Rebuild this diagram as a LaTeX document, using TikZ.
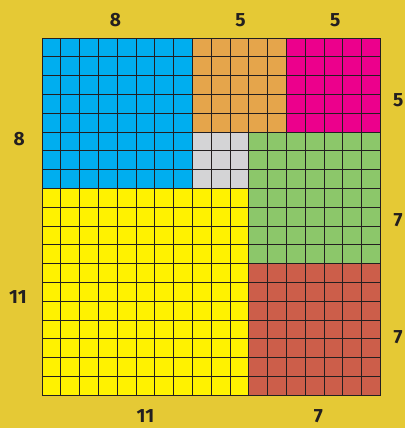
\documentclass[tikz,border=0pt]{standalone}
\usepackage{fontspec}
\setmainfont{Fira Sans}
\usepackage{xcolor}
\usetikzlibrary{positioning}
\definecolor{bggold}{HTML}{E5C935}
\definecolor{sqblue}{HTML}{00AEEF}
\definecolor{sqorange}{HTML}{E5A54B}
\definecolor{sqmagenta}{HTML}{EC008C}
\definecolor{sqgray}{HTML}{D4D4D6}
\definecolor{sqgreen}{HTML}{8CC76A}
\definecolor{sqyellow}{HTML}{FFF200}
\definecolor{sqred}{HTML}{CC5E4A}
\definecolor{gridink}{HTML}{231F20}

\begin{document}
\begin{tikzpicture}[x = .5cm, y = .5cm]
    \tikzset{sidelabel/.style = {font = \fontsize{14.5}{14.5}\selectfont\bfseries, text = gridink, inner sep = 0pt},
             gridline/.style = {gridink, line width = .7pt}}
    \fill[bggold] (-2.234,2.02) rectangle (19.31,-20.74);
    \useasboundingbox (-2.234,2.02) rectangle (19.31,-20.74);
    % Squares
    \fill[sqblue] (0,0) rectangle (8,-8);
    \fill[sqorange] (8,0) rectangle (13,-5);
    \fill[sqmagenta] (13,0) rectangle (18,-5);
    \fill[sqgray] (8,-5) rectangle (11,-8);
    \fill[sqgreen] (11,-5) rectangle (18,-12);
    \fill[sqyellow] (0,-8) rectangle (11,-19);
    \fill[sqred] (11,-12) rectangle (18,-19);
    % Unit grid
    \draw[gridline, step = .5cm] (0,0) grid (18,-19);
    \draw[gridline] (0,0) rectangle (18,-19);
    % Side lengths
    \node[sidelabel] (top8) at (3.9,0.96) {8};
    \node[sidelabel] (top5a) at (10.55,0.96) {5};
    \node[sidelabel] (top5b) at (15.6,0.96) {5};
    \node[sidelabel] (right5) at (18.94,-3.3) {5};
    \node[sidelabel] (right7a) at (18.94,-9.7) {7};
    \node[sidelabel] (right7b) at (18.94,-15.9) {7};
    \node[sidelabel] (left8) at (-1.22,-5.4) {8};
    \node[sidelabel] (left11) at (-1.28,-13.8) {11};
    \node[sidelabel] (bottom11) at (5.5,-20.1) {11};
    \node[sidelabel] (bottom7) at (14.7,-20.1) {7};
\end{tikzpicture}
\end{document}
